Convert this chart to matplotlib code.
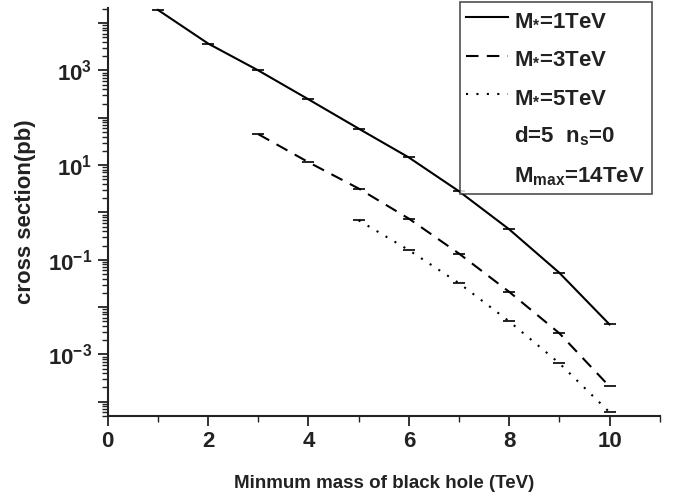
import matplotlib
matplotlib.use("Agg")
import math
import matplotlib.pyplot as plt
from matplotlib.lines import Line2D
from matplotlib.ticker import LogLocator, FuncFormatter, MultipleLocator, NullFormatter

plt.rcParams['font.family'] = ['Liberation Sans', 'DejaVu Sans']
plt.rcParams['font.weight'] = 'bold'
plt.rcParams['mathtext.fontset'] = 'custom'
plt.rcParams['mathtext.rm'] = 'Liberation Sans:bold'
plt.rcParams['mathtext.it'] = 'Liberation Sans:bold'
plt.rcParams['mathtext.bf'] = 'Liberation Sans:bold'

# minimum black hole mass (TeV)
x1 = [1, 2, 3, 4, 5, 6, 7, 8, 9, 10]
x3 = [3, 4, 5, 6, 7, 8, 9, 10]
x5 = [5, 6, 7, 8, 9, 10]

# cross sections (pb)
sigma1 = [1.9e4, 3.7e3, 1.0e3, 245, 59, 14.5, 2.8, 0.44, 0.053, 0.0043]
sigma3 = [45, 11.5, 3.2, 0.74, 0.135, 0.021, 0.0028, 2.1e-4]
sigma5 = [0.68, 0.16, 0.032, 0.005, 6.5e-4, 6.0e-5]

labels = ['M$_{*}$=1TeV', 'M$_{*}$=3TeV', 'M$_{*}$=5TeV']

fig = plt.figure(figsize=(6.78, 4.92), dpi=100)
ax = fig.add_axes([0.159, 0.1545, 0.814, 0.8295])

ax.plot(x1, sigma1, color='k', lw=1.5, ls='-', marker='_', ms=9, mew=1.2)
ax.plot(x3, sigma3, color='k', lw=1.5, ls=(0, (6, 4)), marker='_', ms=9, mew=1.2)
ax.plot(x5, sigma5, color='k', lw=1.5, ls=(0, (1, 4)), marker='_', ms=9, mew=1.2)

ax.set_yscale('log')
ax.set_xlim(0, 11)
ax.set_ylim(5e-5, 2.1e4)

ax.spines['top'].set_visible(False)
ax.spines['right'].set_visible(False)
for s in ['left', 'bottom']:
    ax.spines[s].set_linewidth(1.5)
    ax.spines[s].set_color('#222222')

ax.xaxis.set_major_locator(MultipleLocator(2))
ax.xaxis.set_minor_locator(MultipleLocator(1))
ax.yaxis.set_major_locator(LogLocator(base=10, numticks=20))
ax.yaxis.set_minor_locator(LogLocator(base=10, subs=range(2, 10), numticks=20))
ax.yaxis.set_minor_formatter(NullFormatter())


def fmt(v, pos):
    e = int(round(math.log10(v)))
    if e % 2 == 0:
        return ''
    return '10$^{%d}$' % e


ax.yaxis.set_major_formatter(FuncFormatter(fmt))
ax.tick_params(which='major', length=7, width=1.3, labelsize=16, colors='#222222', pad=4)
ax.tick_params(which='minor', length=4, width=1.0, colors='#222222')

ax.set_xlabel('Minmum mass of black hole (TeV)', fontsize=13.5, fontweight='bold', labelpad=16.5, color='#222222')
ax.set_ylabel('cross section(pb)', fontsize=16, fontweight='bold', labelpad=9, color='#222222')

handles = [
    Line2D([], [], color='k', lw=1.5, ls='-'),
    Line2D([], [], color='k', lw=1.5, ls=(0, (6, 4))),
    Line2D([], [], color='k', lw=1.5, ls=(0, (1, 4))),
    Line2D([], [], color='none'),
    Line2D([], [], color='none'),
]
leg_labels = labels + ['d=5  n$_{s}$=0', 'M$_{max}$=14TeV']
leg = fig.legend(handles, leg_labels, loc='upper right', bbox_to_anchor=(0.961, 0.995),
                 fontsize=16, frameon=True, fancybox=False, edgecolor='#222222',
                 handlelength=1.9, handletextpad=0.25, labelspacing=0.78, borderpad=0.3,
                 borderaxespad=0.0)
leg.get_frame().set_linewidth(1.2)
for t in leg.get_texts():
    t.set_color('#222222')

fig.savefig('out.png', dpi=100)
